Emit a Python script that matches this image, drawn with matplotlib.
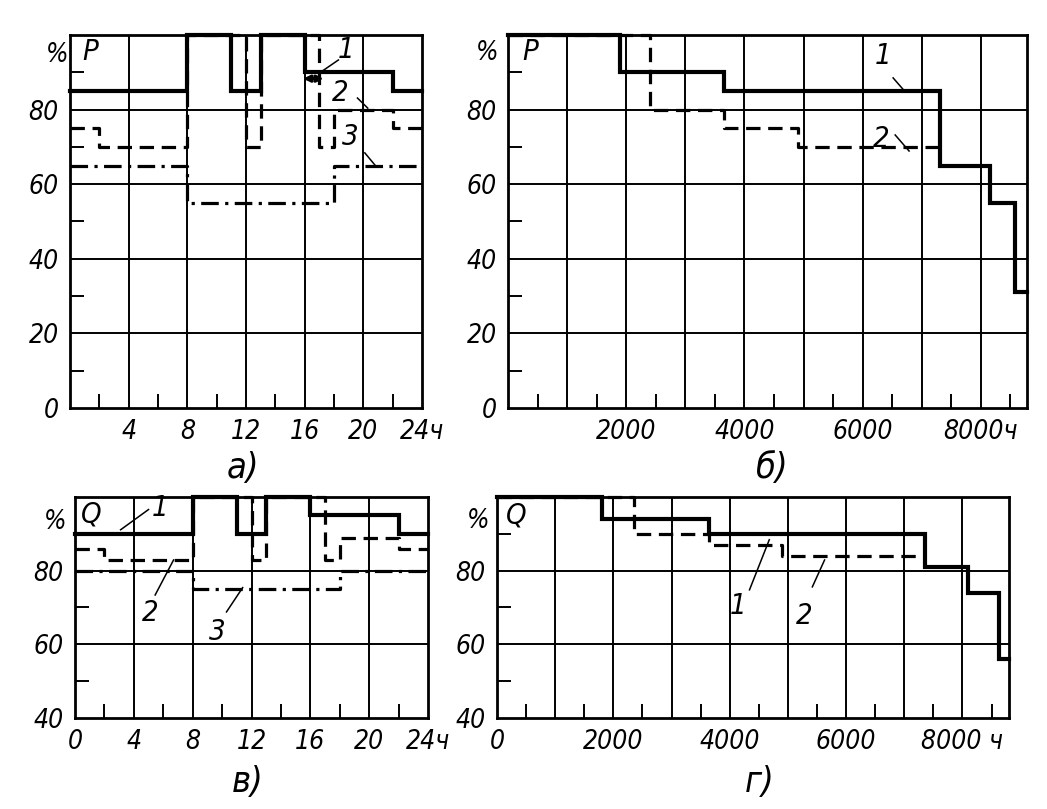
import matplotlib
matplotlib.use("Agg")
import matplotlib.pyplot as plt
import numpy as np

# ---------------- data ----------------
# panel a) daily active load P, %
a_t1 = [0, 8, 11, 13, 16, 22, 24]
a_p1 = [85, 100, 85, 100, 90, 85]
a_t2 = [0, 2, 8, 12, 13, 17, 18, 22, 24]
a_p2 = [75, 70, 100, 70, 100, 70, 80, 75]
a_t3 = [0, 8, 18, 24]
a_p3 = [65, 55, 65]
# panel б) annual active load P, %
b_t1 = [0, 1900, 3650, 7300, 8150, 8580, 8780]
b_p1 = [100, 90, 85, 65, 55, 31]
b_t2 = [0, 2400, 3650, 4900, 7300]
b_p2 = [100, 80, 75, 70]
# panel в) daily reactive load Q, %
c_t1 = [0, 8, 11, 13, 16, 22, 24]
c_q1 = [90, 100, 90, 100, 95, 90]
c_t2 = [0, 2, 8, 12, 13, 17, 18, 22, 24]
c_q2 = [86, 83, 100, 83, 100, 83, 89, 86]
c_t3 = [0, 8, 18, 24]
c_q3 = [80, 75, 80]
# panel г) annual reactive load Q, %
d_t1 = [0, 1800, 3650, 7350, 8100, 8620, 8800]
d_q1 = [100, 94, 90, 81, 74, 56]
d_t2 = [0, 2350, 3650, 4900, 7350]
d_q2 = [100, 90, 87, 84]

a_yticks = [0, 20, 40, 60, 80]
c_yticks = [40, 60, 80]
a_xticks = [4, 8, 12, 16, 20, 24]
a_xlabels = ["4", "8", "12", "16", "20", "24ч"]
c_xticks = [0, 4, 8, 12, 16, 20, 24]
c_xlabels = ["0", "4", "8", "12", "16", "20", "24ч"]
b_xticks = [2000, 4000, 6000, 8000]
b_xlabels = ["2000", "4000", "6000", "8000ч"]
d_xticks = [0, 2000, 4000, 6000, 8000]
d_xlabels = ["0", "2000", "4000", "6000", "8000 ч"]

# ---------------- style ----------------
W, H = 1047, 809
fig = plt.figure(figsize=(W / 100, H / 100), dpi=100)
fig.patch.set_facecolor("white")
FONT = dict(family="DejaVu Sans", style="italic", stretch="condensed")
TICKFS = 19
K = "black"


def add_ax(l, t, r, b):
    return fig.add_axes([l / W, 1 - b / H, (r - l) / W, (b - t) / H])


def setup(ax, xmax, ymin, xgrid, ygrid, xminor, yminor, xticks, xlabels, yticks):
    ax.set_xlim(0, xmax)
    ax.set_ylim(ymin, 100)
    for s in ax.spines.values():
        s.set_linewidth(2.0)
        s.set_color(K)
    for x in xgrid:
        ax.axvline(x, color=K, lw=1.4, zorder=1)
    for y in ygrid:
        ax.axhline(y, color=K, lw=1.4, zorder=1)
    ax.set_xticks(xminor, minor=True)
    ax.set_yticks(yminor, minor=True)
    ax.tick_params(which="minor", direction="in", length=10, width=1.4,
                   color=K, bottom=True, left=True, top=False, right=False)
    ax.set_xticks(xticks)
    ax.set_xticklabels(xlabels, fontdict=dict(size=TICKFS, **FONT))
    ax.set_yticks(yticks)
    ax.set_yticklabels([str(v) for v in yticks], fontdict=dict(size=TICKFS, **FONT))
    ax.tick_params(which="major", length=0, pad=8)


def steps(ax, t, v, style, lw):
    vv = list(v) + [v[-1]]
    ax.step(t, vv, where="post", color=K, lw=lw, linestyle=style,
            clip_on=False, zorder=3, solid_joinstyle="miter")


SOLID = "-"
DASH = (0, (4.5, 2.4))
DASHDOT = (0, (5.5, 2.0, 1.0, 2.0))


def label(ax, x, y, s, fs=21):
    ax.text(x, y, s, fontsize=fs, ha="center", va="center", **FONT, zorder=5)


def leader(ax, x0, y0, x1, y1):
    ax.plot([x0, x1], [y0, y1], color=K, lw=1.1, clip_on=False, zorder=5)


# ---------------- panel a ----------------
axA = add_ax(70, 35, 422, 408)
setup(axA, 24, 0, [4, 8, 12, 16, 20], [20, 40, 60, 80],
      [2, 6, 10, 14, 18, 22], [10, 30, 50, 70, 90], a_xticks, a_xlabels, a_yticks)
steps(axA, a_t3, a_p3, DASHDOT, 2.3)
steps(axA, a_t2, a_p2, DASH, 2.3)
steps(axA, a_t1, a_p1, SOLID, 3.0)
axA.annotate("", xy=(17.3, 88.3), xytext=(15.9, 88.3),
             arrowprops=dict(arrowstyle="<->", lw=2.4, color=K,
                             shrinkA=0, shrinkB=0, mutation_scale=9), zorder=6)
label(axA, 18.8, 96, "1")
leader(axA, 18.3, 93.3, 17.3, 90.6)
label(axA, 18.4, 84.4, "2")
leader(axA, 19.6, 83.1, 20.3, 80.4)
label(axA, 19.1, 72.6, "3")
leader(axA, 20.1, 68.4, 20.8, 65.1)
axA.text(1.4, 95.5, "P", fontsize=21, ha="center", va="center", **FONT)
fig.text(57 / W, 1 - 55 / H, "%", fontsize=19, ha="center", va="center", **FONT)

# ---------------- panel б ----------------
axB = add_ax(508, 35, 1027, 408)
setup(axB, 8780, 0, list(range(1000, 8001, 1000)), [20, 40, 60, 80],
      list(range(500, 8600, 1000)), [10, 30, 50, 70, 90], b_xticks, b_xlabels, a_yticks)
steps(axB, b_t2, b_p2, DASH, 2.3)
steps(axB, b_t1, b_p1, SOLID, 3.0)
label(axB, 6345, 94.4, "1")
leader(axB, 6515, 88.5, 6680, 85.5)
label(axB, 6310, 72.1, "2")
leader(axB, 6550, 73.2, 6785, 68.9)
axB.text(380, 95.5, "P", fontsize=21, ha="center", va="center", **FONT)
fig.text(487 / W, 1 - 53 / H, "%", fontsize=19, ha="center", va="center", **FONT)

# ---------------- panel в ----------------
axC = add_ax(75, 497, 428, 718)
setup(axC, 24, 40, [4, 8, 12, 16, 20], [60, 80],
      [2, 6, 10, 14, 18, 22], [50, 70, 90], c_xticks, c_xlabels, c_yticks)
steps(axC, c_t3, c_q3, DASHDOT, 2.3)
steps(axC, c_t2, c_q2, DASH, 2.3)
steps(axC, c_t1, c_q1, SOLID, 3.0)
label(axC, 5.8, 97.0, "1")
leader(axC, 5.0, 96.6, 3.1, 91.1)
label(axC, 5.1, 68.5, "2")
leader(axC, 5.45, 73.4, 6.7, 82.9)
label(axC, 9.7, 63.4, "3")
leader(axC, 10.3, 68.8, 11.4, 75.4)
axC.text(1.1, 95.3, "Q", fontsize=21, ha="center", va="center", **FONT)
fig.text(55 / W, 1 - 522 / H, "%", fontsize=19, ha="center", va="center", **FONT)

# ---------------- panel г ----------------
axD = add_ax(497, 497, 1009, 718)
setup(axD, 8800, 40, list(range(1000, 8001, 1000)), [60, 80],
      list(range(500, 8600, 1000)), [50, 70, 90], d_xticks, d_xlabels, c_yticks)
steps(axD, d_t2, d_q2, DASH, 2.3)
steps(axD, d_t1, d_q1, SOLID, 3.0)
label(axD, 4150, 70.5, "1")
leader(axD, 4340, 74.8, 4680, 88.4)
label(axD, 5280, 67.7, "2")
leader(axD, 5420, 75.6, 5630, 82.9)
axD.text(330, 95.0, "Q", fontsize=21, ha="center", va="center", **FONT)
fig.text(478 / W, 1 - 521 / H, "%", fontsize=19, ha="center", va="center", **FONT)

# ---------------- captions ----------------
for x, y, s in [(243, 468, "а)"), (772, 468, "б)"), (248, 782, "в)"), (760, 782, "г)")]:
    fig.text(x / W, 1 - y / H, s, fontsize=26, ha="center", va="center", **FONT)

fig.savefig("out.png", dpi=100, facecolor="white")
